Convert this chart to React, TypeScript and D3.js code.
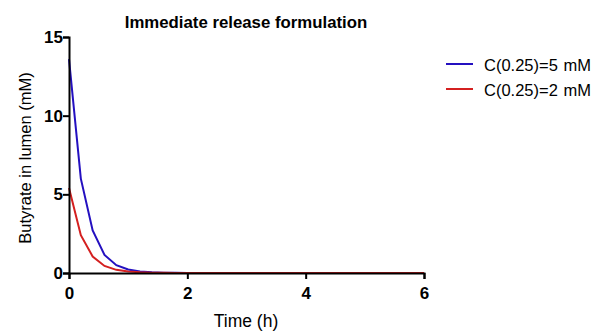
import React, { useRef, useEffect } from 'react';
import * as d3 from 'd3';

// time points (h) and butyrate in lumen (mM)
const times = [0, 0.2, 0.4, 0.6, 0.8, 1.0, 1.2, 1.4, 1.6, 1.8, 2.0, 3, 4, 5, 6];
const high = [13.6, 6.0, 2.7, 1.15, 0.5, 0.22, 0.1, 0.04, 0.02, 0.01, 0, 0, 0, 0, 0];
const low = [5.4, 2.4, 1.05, 0.45, 0.2, 0.09, 0.04, 0.02, 0.01, 0, 0, 0, 0, 0, 0];
const seriesNames = ['C(0.25)=5 mM', 'C(0.25)=2 mM'];
const xTicks = [0, 2, 4, 6];
const yTicks = [0, 5, 10, 15];

const W = 595, H = 331;
const font = '"Liberation Sans", Arial, sans-serif';

export default function App() {
    const svg_ref = useRef<SVGSVGElement>(null);

    useEffect(() => {
        draw(svg_ref.current as SVGSVGElement);
    }, []);

    return (
        <div style={{ position: 'absolute', left: 0, top: 0 }}>
            <svg ref={svg_ref} width={W} height={H}></svg>
        </div>
    );
}

function draw(el: SVGSVGElement) {
    const svg = d3.select(el);
    svg.selectAll('*').remove();
    svg.append('rect').attr('width', W).attr('height', H).attr('fill', '#fff');

    const x = d3.scaleLinear().domain([0, 6]).range([69, 424]);
    const y = d3.scaleLinear().domain([0, 15]).range([273, 37]);

    const colors = ['#2410c0', '#d42020'];
    const series = [high, low];

    const line = d3.line<number>()
        .x((_, i) => x(times[i]))
        .y(d => y(d));

    // lines (red drawn last, sits on top at zero)
    series.forEach((s, k) => {
        svg.append('path')
            .datum(s)
            .attr('d', line)
            .attr('fill', 'none')
            .attr('stroke', colors[k])
            .attr('stroke-width', 2);
    });

    // x axis
    const xa = svg.append('g')
        .attr('transform', `translate(0,${y(0)})`)
        .call(d3.axisBottom(x).tickValues(xTicks).tickSize(6).tickPadding(8).tickFormat(d3.format('d')));
    // y axis
    const ya = svg.append('g')
        .attr('transform', `translate(${x(0)},0)`)
        .call(d3.axisLeft(y).tickValues(yTicks).tickSize(6).tickPadding(0).tickFormat(d3.format('d')));

    [xa, ya].forEach(a => {
        a.select('.domain').attr('stroke', '#000').attr('stroke-width', 2);
        a.selectAll('.tick line').attr('stroke', '#000').attr('stroke-width', 2);
        a.selectAll('.tick text')
            .attr('fill', '#000')
            .style('font-family', font)
            .style('font-size', '17px')
            .style('font-weight', 'bold');
    });

    // title
    svg.append('text')
        .attr('x', 246).attr('y', 28)
        .attr('text-anchor', 'middle')
        .style('font-family', font)
        .style('font-size', '16.8px')
        .style('font-weight', 'bold')
        .text('Immediate release formulation');

    // axis labels
    svg.append('text')
        .attr('x', 246).attr('y', 327)
        .attr('text-anchor', 'middle')
        .style('font-family', font)
        .style('font-size', '17.5px')
        .text('Time (h)');

    svg.append('text')
        .attr('transform', `translate(31,158) rotate(-90)`)
        .attr('text-anchor', 'middle')
        .style('font-family', font)
        .style('font-size', '16.5px')
        .text('Butyrate in lumen (mM)');

    // legend
    seriesNames.forEach((name, k) => {
        const ly = 64 + k * 25;
        svg.append('line')
            .attr('x1', 446).attr('x2', 473)
            .attr('y1', ly).attr('y2', ly)
            .attr('stroke', colors[k]).attr('stroke-width', 2);
        svg.append('text')
            .attr('x', 484).attr('y', ly + 7)
            .style('font-family', font)
            .style('font-size', '16.5px')
            .style('word-spacing', '1px')
            .text(name);
    });
}
